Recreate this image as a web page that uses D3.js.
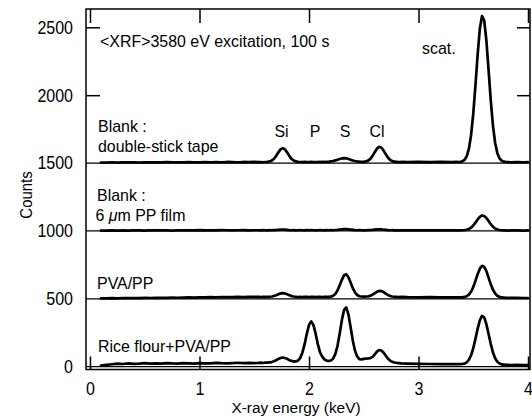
<!DOCTYPE html>
<html><head><meta charset="utf-8">
<script src="https://cdn.jsdelivr.net/npm/d3@7"></script>
<style>
body{margin:0;background:#fff}
svg{display:block}
text{font-family:"Liberation Sans",Arial,Helvetica,sans-serif;fill:#000}
</style>
</head><body>
<svg id="c" width="532" height="419"></svg>
<script>
// X-ray energy grid (keV)
const energies = [
0.10,0.15,0.20,0.25,0.30,0.35,0.40,0.45,0.50,0.55,0.60,0.65,0.70,0.75,0.80,0.85,0.90,0.95,1.00,1.05,1.10,1.15,1.20,1.25,1.30,1.35,1.40,1.45,1.50,
1.54,1.56,1.58,1.60,1.62,1.64,1.66,1.68,1.70,1.72,1.74,1.76,1.78,1.80,1.82,1.84,1.86,1.88,1.90,1.92,1.94,1.96,1.98,2.00,2.02,2.04,2.06,2.08,2.10,2.12,
2.14,2.16,2.18,2.20,2.22,2.24,2.26,2.28,2.30,2.32,2.34,2.36,2.38,2.40,2.42,2.44,2.46,2.48,2.50,2.52,2.54,2.56,2.58,2.60,2.62,2.64,2.66,2.68,2.70,2.72,
2.74,2.76,2.78,2.80,2.82,2.84,
2.90,3.00,3.10,3.20,3.30,
3.36,3.38,3.40,3.42,3.44,3.46,3.48,3.50,3.52,3.54,3.56,3.58,3.60,3.62,3.64,3.66,3.68,3.70,3.72,3.74,3.76,3.78,3.80,3.82,3.84,
3.90,3.96,4.00];

// Counts (raw, before vertical offset)
const riceCounts = [
8,14,18,22,20,24,21,23,26,22,25,23,27,24,22,26,25,23,27,25,24,28,26,25,27,29,26,28,27,
28,30,27,31,30,32,34,40,47,57, 64,68,64,58,48,43,38,39,45,65, 105,166,242,308,333,308,245,168,108,75,
54,45,42,46,59,92,152,242,342,418, 436,386,291,193,118,76,55,54,58,60, 61,63,72,90,111,123,119,104,82,60,
45,36,31,28,27,25,
23,21,20,19,20,
19,19,20,23,32,50,84,136,205,279,342,374,363,313,241,167,105,62,37,24,17,15,13,14,12,
13,12,12];

const pvaCounts = [
3,4,5,4,6,5,6,5,7,6,7,8,7,9,8,9,10,9,11,10,12,11,12,13,12,14,13,15,14,
14,13,15,14,15,15,17,21,27,34, 40,42,39,33,27,20,17,15,13,14, 13,15,14,13,15,14,13,15,14,13,
15,14,14,16,22,36,61,99,140,173, 181,159,120,78,47,28,19,17,16,17, 18,23,31,41,52,58,57,50,38,29,
21,17,15,14,13,14,
12,11,12,10,11,
10,10,11,14,19,31,52,86,132,181,222,243,236,204,156,107,67,39,22,14,10,9,7,8,7,
7,6,6];

const ppFilmCounts = [
2,3,4,3,4,3,5,4,3,5,4,4,5,3,5,4,5,4,6,4,5,4,6,5,4,5,6,4,5,
5,4,6,5,4,6,5,6,7,8, 9,10,9,8,6,5,6,4,5,6, 5,4,6,5,6,5,4,5,6,5,
4,6,5,6,5,7,8,10,12,13, 13,12,10,8,6,5,6,5,4,5, 6,7,8,10,11,12,11,9,8,6,
5,6,4,5,4,5,
4,5,4,5,4,
4,4,5,6,8,14,24,40,61,85,104,114,110,95,73,50,31,18,11,7,5,4,4,3,4,
4,3,4];

const tapeCounts = [
3,4,5,4,5,6,5,4,6,5,6,5,7,6,5,6,7,6,5,7,6,7,6,8,7,6,8,7,8,
7,8,6,8,9,12,18,32,53,79, 101,110,101,79,53,31,19,12,9,8, 7,9,8,7,9,8,7,8,9,8,
8,9,9,12,15,20,25,30,34,36, 35,30,25,19,15,12,10,9,9,12, 18,31,53,80,106,119,115,94,66,41,
24,14,10,9,7,8,
7,8,7,8,7,
8,9,12,23,49,104,205,362,571,798,988,1083,1050,901,685,462,276,148,73,34,17,10,8,7,6,
7,6,7];

const seriesCounts = [riceCounts, pvaCounts, ppFilmCounts, tapeCounts];
const seriesOffsets = [0, 500, 1000, 1500];
const xTicks = [0, 1, 2, 3, 4];
const yTicks = [0, 500, 1000, 1500, 2000, 2500];
const yMarkTicks = [2000, 2500];
const peakLabels = ["Si", "P", "S", "Cl"];

const W = 532, H = 419;
const TICK_FS = 18.4, TICK_SX = 0.87;   // tick numbers: tall, narrow type
const NOTE_FS = 16.6, NOTE_SX = 0.96;   // annotations
const frame = {l: 86, r: 530, t: 9, b: 369.5};
const x = d3.scaleLinear().domain([0, 4]).range([90, 528]);
const y = d3.scaleLinear().domain([0, 2500]).range([366.7, 27.3]);

const svg = d3.select("#c");
svg.append("rect").attr("width", W).attr("height", H).attr("fill", "#fff");

// offset baselines
svg.append("g").selectAll("line").data(seriesOffsets).join("line")
  .attr("x1", frame.l).attr("x2", frame.r)
  .attr("y1", d => y(d)).attr("y2", d => y(d))
  .attr("stroke", "#000").attr("stroke-width", 1.2);

// spectra
const line = d3.line().x(d => x(d[0])).y(d => y(d[1]));
seriesCounts.forEach((vals, i) => {
  const pts = energies.map((e, j) => [e, vals[j] + seriesOffsets[i]]);
  svg.append("path").attr("d", line(pts))
    .attr("fill", "none").attr("stroke", "#000")
    .attr("stroke-width", 2.7).attr("stroke-linejoin", "round").attr("stroke-linecap", "round");
});

// frame
svg.append("rect").attr("x", frame.l).attr("y", frame.t)
  .attr("width", frame.r - frame.l).attr("height", frame.b - frame.t)
  .attr("fill", "none").attr("stroke", "#000").attr("stroke-width", 1.5);

function styleAxis(g) {
  g.select(".domain").remove();
  g.selectAll("line").attr("stroke", "#000").attr("stroke-width", 1.5);
  g.attr("font-family", null).attr("font-size", null);
  g.selectAll("text").attr("font-size", TICK_FS).attr("fill", "#000")
    .each(function () {
      const t = d3.select(this);
      const tx = +t.attr("x") || 0;
      t.attr("x", tx / TICK_SX).attr("transform", `scale(${TICK_SX},1)`);
    });
}

// bottom axis
svg.append("g").attr("transform", `translate(0,${frame.b})`)
  .call(d3.axisBottom(x).tickValues(xTicks).tickSize(-13).tickPadding(12.2).tickFormat(d3.format("d")))
  .call(styleAxis);
// top axis
svg.append("g").attr("transform", `translate(0,${frame.t})`)
  .call(d3.axisTop(x).tickValues(xTicks).tickSize(-14).tickFormat(""))
  .call(styleAxis);
// left labels
svg.append("g").attr("transform", `translate(${frame.l},0)`)
  .call(d3.axisLeft(y).tickValues(yTicks).tickSize(0).tickPadding(13).tickFormat(d3.format("d")))
  .call(styleAxis);
// left tick marks
svg.append("g").attr("transform", `translate(${frame.l},0)`)
  .call(d3.axisLeft(y).tickValues(yMarkTicks).tickSize(-14).tickFormat(""))
  .call(styleAxis);
// right tick marks
svg.append("g").attr("transform", `translate(${frame.r},0)`)
  .call(d3.axisRight(y).tickValues(yMarkTicks).tickSize(-13).tickFormat(""))
  .call(styleAxis);

// text helper (horizontal scale to imitate the narrow face)
function txt(tx, ty, s, anchor, opts) {
  const o = opts || {};
  const fs = o.fs || NOTE_FS, sx = o.sx || NOTE_SX;
  return svg.append("text")
    .attr("transform", `translate(${tx},${ty})${o.rot ? " rotate(" + o.rot + ")" : ""} scale(${sx},1)`)
    .attr("font-size", fs).attr("text-anchor", anchor || "start").text(s);
}

// axis titles
txt(296, 413.4, "X-ray energy (keV)", "middle", {fs: 15.4, sx: 1});
txt(31.5, 195, "Counts", "middle", {fs: 16.6, sx: 0.9, rot: -90});

// annotations
txt(100, 47, "<XRF>3580 eV excitation, 100 s");
txt(422, 54, "scat.");
txt(98, 132, "Blank :");
txt(98, 152, "double-stick tape");
const peakLabelX = [281.5, 315, 345, 377];
peakLabels.forEach((p, i) => txt(peakLabelX[i], 137, p, "middle"));
txt(97, 200.5, "Blank :");
const pp = txt(95.5, 221, "");
pp.append("tspan").text("6 ");
pp.append("tspan").attr("font-style", "italic").text("\u03bc");
pp.append("tspan").text("m PP film");
txt(97, 289, "PVA/PP");
txt(98, 352, "Rice flour+PVA/PP");
</script>
</body></html>
